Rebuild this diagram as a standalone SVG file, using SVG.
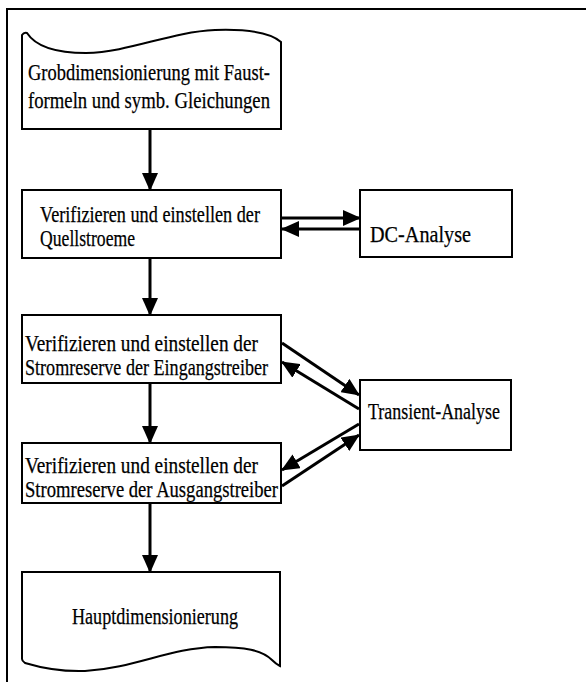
<svg xmlns="http://www.w3.org/2000/svg" width="586" height="682" viewBox="0 0 586 682">
  <style>
    .box { fill: #ffffff; stroke: #000000; stroke-width: 2; }
    .frame { fill: none; stroke: #000000; stroke-width: 2; }
    .txt { font-family: "Liberation Serif", "Times New Roman", serif; font-size: 23px; fill: #000000; stroke: #000000; stroke-width: 0.25; }
    .edge { fill: none; stroke: #000000; stroke-width: 3; }
  </style>
  <defs>
    <marker id="arrow" markerUnits="userSpaceOnUse" markerWidth="18" markerHeight="16" viewBox="0 0 18 16" refX="17" refY="8" orient="auto">
      <path d="M0,0 L18,8 L0,16 Z" fill="#000000"/>
    </marker>
  </defs>
  <rect width="586" height="682" fill="#ffffff"/>

  <!-- outer frame: top and left rule -->
  <path class="frame" d="M7,682 L7,9 L586,9"/>

  <g id="node-grobdimensionierung">
    <path class="box" d="M22,129 L22,35 Q24,32 27,33 C36,47 56,53 86,53 C130,52 170,32 215,30 C245,29 270,32 281,42 L281,129 Z"/>
    <text class="txt" x="28" y="80" textLength="242" lengthAdjust="spacingAndGlyphs">Grobdimensionierung mit Faust-</text>
    <text class="txt" x="28" y="108" textLength="242" lengthAdjust="spacingAndGlyphs">formeln und symb. Gleichungen</text>
  </g>

  <g id="node-quellstroeme">
    <rect class="box" x="22" y="190" width="259" height="68"/>
    <text class="txt" x="40" y="222" textLength="220" lengthAdjust="spacingAndGlyphs">Verifizieren und einstellen der</text>
    <text class="txt" x="40" y="246" textLength="95" lengthAdjust="spacingAndGlyphs">Quellstroeme</text>
  </g>

  <g id="node-dc-analyse">
    <rect class="box" x="360" y="190" width="152" height="67"/>
    <text class="txt" x="370" y="242" textLength="101" lengthAdjust="spacingAndGlyphs">DC-Analyse</text>
  </g>

  <g id="node-eingangstreiber">
    <rect class="box" x="22" y="315" width="259" height="68"/>
    <text class="txt" x="25" y="351" textLength="233" lengthAdjust="spacingAndGlyphs">Verifizieren und einstellen der</text>
    <text class="txt" x="25" y="375" textLength="243" lengthAdjust="spacingAndGlyphs">Stromreserve der Eingangstreiber</text>
  </g>

  <g id="node-transient-analyse">
    <rect class="box" x="360" y="380" width="151" height="70"/>
    <text class="txt" x="368" y="419" textLength="132" lengthAdjust="spacingAndGlyphs">Transient-Analyse</text>
  </g>

  <g id="node-ausgangstreiber">
    <rect class="box" x="22" y="443" width="259" height="60"/>
    <text class="txt" x="25" y="473" textLength="233" lengthAdjust="spacingAndGlyphs">Verifizieren und einstellen der</text>
    <text class="txt" x="25" y="497" textLength="253" lengthAdjust="spacingAndGlyphs">Stromreserve der Ausgangstreiber</text>
  </g>

  <g id="node-hauptdimensionierung">
    <path class="box" d="M22,572 L280,572 L280,666 Q276,664 272,660 C262,650 245,647 215,647 C170,648 135,668 85,671 C55,672 35,666 25,663 Q22,661 22,659 Z"/>
    <text class="txt" x="72" y="624" textLength="166" lengthAdjust="spacingAndGlyphs">Hauptdimensionierung</text>
  </g>

  <g id="connectors">
    <line class="edge" x1="150" y1="129" x2="150" y2="190" marker-end="url(#arrow)"/>
    <line class="edge" x1="150" y1="258" x2="150" y2="315" marker-end="url(#arrow)"/>
    <line class="edge" x1="150" y1="383" x2="150" y2="443" marker-end="url(#arrow)"/>
    <line class="edge" x1="150" y1="503" x2="150" y2="572" marker-end="url(#arrow)"/>

    <line class="edge" x1="282" y1="218" x2="360" y2="218" marker-end="url(#arrow)"/>
    <line class="edge" x1="360" y1="229" x2="282" y2="229" marker-end="url(#arrow)"/>

    <line class="edge" x1="282" y1="343" x2="359" y2="395" marker-end="url(#arrow)"/>
    <line class="edge" x1="359" y1="409" x2="282" y2="362" marker-end="url(#arrow)"/>

    <line class="edge" x1="359" y1="424" x2="282" y2="470" marker-end="url(#arrow)"/>
    <line class="edge" x1="282" y1="486" x2="359" y2="435" marker-end="url(#arrow)"/>
  </g>
</svg>
